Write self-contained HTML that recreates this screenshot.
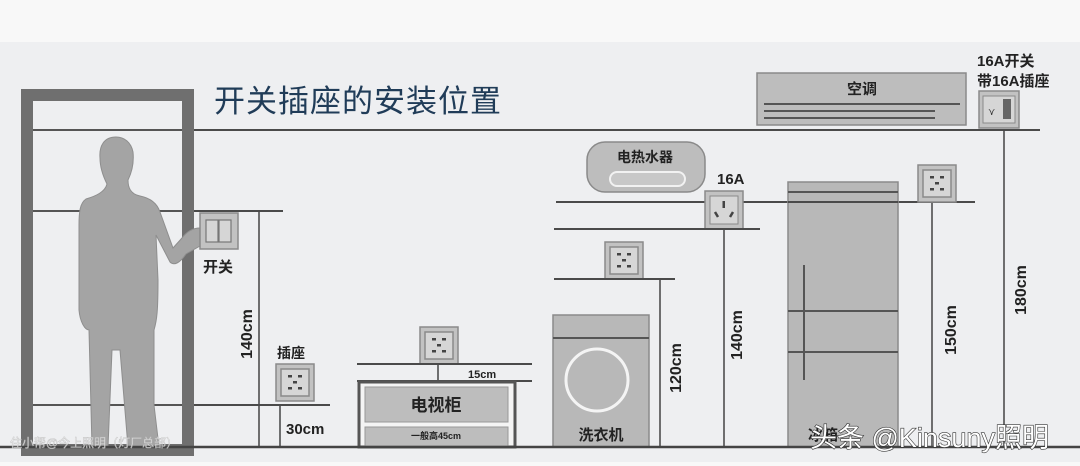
<!DOCTYPE html>
<html><head><meta charset="utf-8"><style>
html,body{margin:0;padding:0;background:#f7f7f7}
svg{display:block}
text{font-family:"Liberation Sans","Noto Sans CJK SC",sans-serif}
</style></head><body>
<svg width="1080" height="466" viewBox="0 0 1080 466" xmlns="http://www.w3.org/2000/svg">
<defs>
<g id="sock">
<rect x="0" y="0" width="38" height="37" fill="#c2c2c2" stroke="#8a8a8a" stroke-width="1.5"/>
<rect x="5" y="5" width="28" height="27" fill="#d6d6d6" stroke="#8a8a8a" stroke-width="1.5"/>
<rect x="12" y="11" width="4" height="2.5" fill="#444"/><rect x="22" y="11" width="4" height="2.5" fill="#444"/>
<rect x="17" y="17" width="4" height="2.5" fill="#444"/>
<rect x="12" y="23" width="4" height="2.5" fill="#444"/><rect x="22" y="23" width="4" height="2.5" fill="#444"/>
</g>
</defs>
<rect x="0" y="0" width="1080" height="466" fill="#f8f8f8"/>
<rect x="0" y="42" width="1080" height="420" fill="#eeeff1"/>
<!-- door -->
<rect x="27" y="95" width="161" height="355" fill="none" stroke="#6f6f6f" stroke-width="12"/>
<line x1="33" y1="130" x2="182" y2="130" stroke="#555" stroke-width="2"/>
<line x1="33" y1="211" x2="182" y2="211" stroke="#555" stroke-width="2"/>
<line x1="33" y1="405" x2="182" y2="405" stroke="#555" stroke-width="2"/>
<!-- person -->
<path d="M116 137 C104 137 99 146 100 158 C100 166 103 176 107 184 C105 192 96 196 86 199 C80 203 79 212 79 225 L79 310 C80 322 85 330 89 330 L92 447 L108 447 L112 350 L120 350 L128 447 L159 447 L154 405 L154 330 C157 320 158 310 158 280 L156 235 L170 262 C174 266 180 263 186 254 L200 246 L200 228 C194 228 188 230 182 238 L173 248 L160 212 C157 203 150 198 140 196 C130 194 128 187 128 180 C132 172 134 162 133 152 C131 142 124 137 116 137 Z" fill="#a4a4a4" stroke="#8e8e8e" stroke-width="1"/>
<!-- title -->
<text x="214" y="112" font-size="31" fill="#203c58" letter-spacing="1">开关插座的安装位置</text>
<!-- top line -->
<line x1="194" y1="130" x2="1040" y2="130" stroke="#4a4a4a" stroke-width="2"/>
<!-- switch -->
<line x1="194" y1="211" x2="283" y2="211" stroke="#4a4a4a" stroke-width="2"/>
<rect x="200" y="213" width="38" height="36" fill="#c2c2c2" stroke="#8a8a8a" stroke-width="1.5"/>
<rect x="206" y="220" width="12" height="22" fill="#d6d6d6" stroke="#777" stroke-width="1.2"/>
<rect x="219" y="220" width="12" height="22" fill="#d6d6d6" stroke="#777" stroke-width="1.2"/>
<text x="203" y="272" font-size="15" font-weight="bold" fill="#222">开关</text>
<line x1="259" y1="212" x2="259" y2="447" stroke="#444" stroke-width="1.5"/>
<text transform="translate(252,334) rotate(-90)" font-size="16" font-weight="bold" fill="#222" text-anchor="middle">140cm</text>
<!-- socket 1 -->
<text x="277" y="358" font-size="14" font-weight="bold" fill="#222">插座</text>
<use href="#sock" x="276" y="364"/>
<line x1="194" y1="405" x2="330" y2="405" stroke="#4a4a4a" stroke-width="2"/>
<line x1="280" y1="406" x2="280" y2="447" stroke="#444" stroke-width="1.5"/>
<text x="286" y="434" font-size="15" font-weight="bold" fill="#222">30cm</text>
<!-- TV cabinet -->
<use href="#sock" x="420" y="327"/>
<line x1="357" y1="364" x2="532" y2="364" stroke="#4a4a4a" stroke-width="2"/>
<line x1="438" y1="365" x2="438" y2="381" stroke="#444" stroke-width="1.5"/>
<text x="468" y="378" font-size="11" font-weight="bold" fill="#222">15cm</text>
<line x1="357" y1="381" x2="532" y2="381" stroke="#4a4a4a" stroke-width="2"/>
<rect x="359" y="382" width="156" height="65" fill="#f4f4f4" stroke="#555" stroke-width="3"/>
<rect x="365" y="387" width="143" height="35" fill="#bdbdbd" stroke="#999"/>
<rect x="365" y="427" width="143" height="19" fill="#bdbdbd" stroke="#999"/>
<text x="436" y="411" font-size="17" font-weight="bold" fill="#222" text-anchor="middle">电视柜</text>
<text x="436" y="439" font-size="9" font-weight="bold" fill="#222" text-anchor="middle">一般高45cm</text>
<!-- AC -->
<rect x="757" y="73" width="209" height="52" fill="#bdbdbd" stroke="#8a8a8a" stroke-width="1.5"/>
<text x="862" y="94" font-size="15" font-weight="bold" fill="#222" text-anchor="middle">空调</text>
<line x1="764" y1="104" x2="960" y2="104" stroke="#555" stroke-width="2"/>
<line x1="764" y1="111" x2="935" y2="111" stroke="#555" stroke-width="2"/>
<line x1="764" y1="118" x2="935" y2="118" stroke="#555" stroke-width="2"/>
<text x="977" y="66" font-size="15" font-weight="bold" fill="#222">16A开关</text>
<text x="977" y="86" font-size="15" font-weight="bold" fill="#222">带16A插座</text>
<rect x="979" y="91" width="40" height="37" fill="#c2c2c2" stroke="#8a8a8a" stroke-width="1.5"/>
<rect x="983" y="96" width="32" height="27" fill="#d6d6d6" stroke="#8a8a8a"/>
<rect x="1003" y="99" width="8" height="20" fill="#666"/>
<text x="988" y="115" font-size="10" fill="#333">⋎</text>
<line x1="1004" y1="130" x2="1004" y2="447" stroke="#444" stroke-width="1.5"/>
<text transform="translate(1026,290) rotate(-90)" font-size="16" font-weight="bold" fill="#222" text-anchor="middle">180cm</text>
<!-- water heater -->
<rect x="587" y="142" width="118" height="50" rx="18" fill="#bdbdbd" stroke="#8a8a8a" stroke-width="1.5"/>
<text x="645" y="162" font-size="14" font-weight="bold" fill="#222" text-anchor="middle">电热水器</text>
<rect x="610" y="172" width="75" height="14" rx="7" fill="#c8c8c8" stroke="#f2f2f2" stroke-width="2"/>
<text x="717" y="184" font-size="15" font-weight="bold" fill="#222">16A</text>
<line x1="556" y1="202" x2="975" y2="202" stroke="#4a4a4a" stroke-width="2"/>
<!-- fridge -->
<rect x="788" y="182" width="110" height="265" fill="#b8b8b8" stroke="#8a8a8a" stroke-width="1.5"/>
<line x1="788" y1="192" x2="898" y2="192" stroke="#555" stroke-width="2"/>
<line x1="788" y1="202" x2="898" y2="202" stroke="#4a4a4a" stroke-width="2"/>
<line x1="788" y1="311" x2="898" y2="311" stroke="#555" stroke-width="2"/>
<line x1="788" y1="352" x2="898" y2="352" stroke="#555" stroke-width="2"/>
<line x1="804" y1="265" x2="804" y2="380" stroke="#555" stroke-width="2"/>
<rect x="705" y="191" width="38" height="38" fill="#c2c2c2" stroke="#8a8a8a" stroke-width="1.5"/>
<rect x="710" y="196" width="28" height="28" fill="#d6d6d6" stroke="#8a8a8a"/>
<rect x="722.5" y="201" width="2.5" height="7" fill="#444"/>
<line x1="715" y1="212" x2="718" y2="217" stroke="#444" stroke-width="2.5"/>
<line x1="733" y1="212" x2="730" y2="217" stroke="#444" stroke-width="2.5"/>
<line x1="554" y1="229" x2="760" y2="229" stroke="#4a4a4a" stroke-width="2"/>
<line x1="724" y1="230" x2="724" y2="447" stroke="#444" stroke-width="1.5"/>
<text transform="translate(742,335) rotate(-90)" font-size="16" font-weight="bold" fill="#222" text-anchor="middle">140cm</text>
<!-- socket 4 -->
<use href="#sock" x="918" y="165"/>
<line x1="932" y1="203" x2="932" y2="447" stroke="#444" stroke-width="1.5"/>
<text transform="translate(956,330) rotate(-90)" font-size="16" font-weight="bold" fill="#222" text-anchor="middle">150cm</text>
<!-- socket 3 / washer -->
<use href="#sock" x="605" y="242"/>
<line x1="554" y1="279" x2="675" y2="279" stroke="#4a4a4a" stroke-width="2"/>
<line x1="660" y1="280" x2="660" y2="447" stroke="#444" stroke-width="1.5"/>
<text transform="translate(681,368) rotate(-90)" font-size="16" font-weight="bold" fill="#222" text-anchor="middle">120cm</text>
<rect x="553" y="315" width="96" height="132" fill="#b8b8b8" stroke="#8a8a8a" stroke-width="1.5"/>
<line x1="553" y1="338" x2="649" y2="338" stroke="#555" stroke-width="2"/>
<circle cx="597" cy="380" r="31" fill="#b8b8b8" stroke="#f4f4f4" stroke-width="3"/>
<text x="601" y="440" font-size="15" font-weight="bold" fill="#222" text-anchor="middle">洗衣机</text>
<text x="808" y="440" font-size="15" font-weight="bold" fill="#222">冰箱</text>
<!-- floor -->
<line x1="0" y1="447" x2="1080" y2="447" stroke="#444" stroke-width="2.5"/>
<!-- watermarks -->
<text x="10" y="447" font-size="12" fill="#ffffff" stroke="#bbb" stroke-width="0.5" opacity="0.8">住小帮@今上照明（灯厂总部）</text>
<text x="810" y="447" font-size="27" fill="#ffffff" stroke="#333" stroke-width="1.2" paint-order="stroke">头条 @Kinsuny照明</text>
</svg>
</body></html>
